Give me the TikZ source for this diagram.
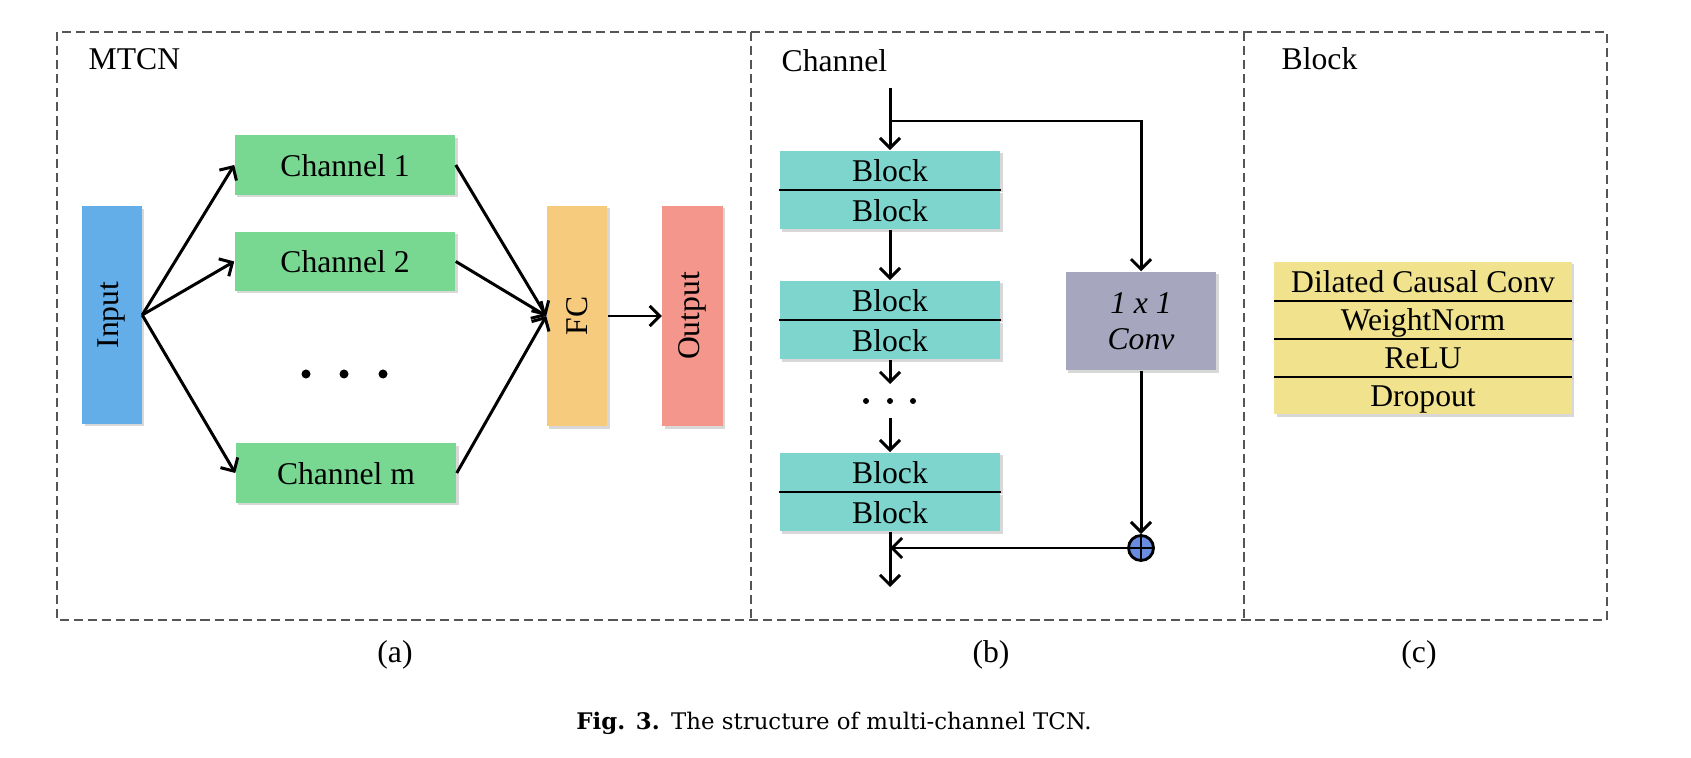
\documentclass[tikz,border=0pt]{standalone}
\usepackage{fontspec}
\setmainfont{Liberation Serif}
\newfontfamily\capfont{DejaVu Serif}
\usepackage{graphicx}
\usepackage{tikz}
\usetikzlibrary{arrows.meta,positioning,shadows}
\definecolor{inblue}{RGB}{99,174,233}
\definecolor{chgreen}{RGB}{120,215,145}
\definecolor{fcorange}{RGB}{247,203,126}
\definecolor{outred}{RGB}{245,150,140}
\definecolor{blkteal}{RGB}{125,213,205}
\definecolor{convgray}{RGB}{166,166,190}
\definecolor{layeryellow}{RGB}{241,226,141}
\definecolor{plusblue}{RGB}{105,140,225}
\definecolor{framegray}{RGB}{85,85,85}
\tikzset{
  txt/.style={font=\fontsize{9}{10.5}\selectfont},
  box/.style={txt, inner sep=0pt, align=center, drop shadow={shadow xshift=0.25mm, shadow yshift=-0.25mm, opacity=0.3}},
  row/.style={text height=0.72em, text depth=0.08em},
  inbox/.style={box, fill=inblue, minimum width=0.59cm, minimum height=2.17cm},
  chbox/.style={box, row, fill=chgreen, minimum width=2.2cm, minimum height=0.59cm},
  fcbox/.style={box, fill=fcorange, minimum width=0.6cm, minimum height=2.2cm},
  outbox/.style={box, fill=outred, minimum width=0.6cm, minimum height=2.2cm},
  blk/.style={box, row, fill=blkteal, minimum width=2.2cm, minimum height=0.385cm},
  convbox/.style={box, fill=convgray, minimum width=1.5cm, minimum height=0.98cm, font=\fontsize{9}{10.2}\selectfont\itshape},
  layerbox/.style={box, row, fill=layeryellow, minimum width=2.97cm, minimum height=0.38cm},
  plus/.style={circle, draw, line width=0.8pt, fill=plusblue, minimum size=0.25cm, inner sep=0pt},
  bigdot/.style={circle, fill=black, inner sep=0pt, minimum size=0.09cm},
  smalldot/.style={circle, fill=black, inner sep=0pt, minimum size=0.06cm},
  divline/.style={line width=0.6pt},
  arrow/.style={-{Straight Barb[length=1mm,width=2mm]}, line width=0.85pt},
  wire/.style={line width=0.8pt},
  panel/.style={draw=framegray, line width=0.4pt, dash pattern=on 2.6pt off 1.4pt},
  title/.style={txt, anchor=west, inner sep=0pt}
}
\begin{document}
\begin{tikzpicture}[x=0.01cm, y=-0.01cm, node distance=0.36cm]
  \useasboundingbox[fill=white] (0,0) rectangle (1691,758);
  \draw[panel] (57,32) rectangle (1607,620);
  \draw[panel] (751,32) -- (751,620) (1244,32) -- (1244,620);

  \node[title] (mtcn) at (88,59) {MTCN};
  \node[inbox] (inp) at (112,315) {\rotatebox{90}{Input}};
  \node[chbox] (ch1) at (345,165) {Channel 1};
  \node[chbox, below=of ch1] (ch2) {Channel 2};
  \node[chbox] (chm) at (346,473) {Channel m};
  \node[fcbox] (fc) at (577,316) {\rotatebox{90}{FC}};
  \node[outbox, right=0.54cm of fc] (out) {\rotatebox{90}{Output}};
  \foreach \x [count=\i] in {306,344,383}
    \node[bigdot] (dot\i) at (\x,374) {};
  \foreach \c in {ch1,ch2,chm}{
    \draw[arrow] (inp.east) -- (\c.west);
    \draw[arrow] (\c.east) -- (fc.west);
  }
  \draw[arrow] (fc) -- (out);

  \node[title] (chan) at (781,61) {Channel};
  \foreach \i/\y in {1/190,2/320,3/492}{
    \node[blk, anchor=south] (blk\i-top) at (890,\y) {Block};
    \node[blk, anchor=north] (blk\i-bot) at (890,\y) {Block};
    \draw[divline] (blk\i-top.south west) -- (blk\i-top.south east);
  }
  \node[convbox] (conv) at (1141,321) {1 x 1\\Conv};
  \node[plus] (add) at (1141,548) {};
  \draw[wire] (add.north) -- (add.south) (add.west) -- (add.east);
  \coordinate (in) at (890,88);
  \coordinate (fork) at (890,121);
  \coordinate (gap1) at (890,384);
  \coordinate (gap2) at (890,418);
  \coordinate (res) at (890,587);
  \foreach \x [count=\i] in {866,890,913}
    \node[smalldot] (sdot\i) at (\x,401) {};
  \draw[arrow] (in) -- (blk1-top.north);
  \draw[arrow] (fork) -| (conv.north);
  \draw[arrow] (blk1-bot.south) -- (blk2-top.north);
  \draw[arrow] (blk2-bot.south) -- (gap1);
  \draw[arrow] (gap2) -- (blk3-top.north);
  \draw[arrow] (conv.south) -- (add.north);
  \draw[arrow] (add.west) -- (add -| blk3-bot.south);
  \draw[arrow] (blk3-bot.south) -- (res);

  \node[title] (blkname) at (1281,59) {Block};
  \foreach \t [count=\i] in {Dilated Causal Conv, WeightNorm, ReLU, Dropout}
    \node[layerbox] (lay\i) at (1423,{243+38*\i}) {\t};
  \foreach \i in {1,2,3}
    \draw[divline] (lay\i.south west) -- (lay\i.south east);

  \node[txt] (suba) at (395,655) {(a)};
  \node[txt] (subb) at (991,655) {(b)};
  \node[txt] (subc) at (1419,655) {(c)};
  \node[font=\capfont\fontsize{6.5}{7.5}\selectfont] (cap) at (834,723) {\textbf{Fig. 3.}\enspace The structure of multi-channel TCN.};
\end{tikzpicture}
\end{document}
